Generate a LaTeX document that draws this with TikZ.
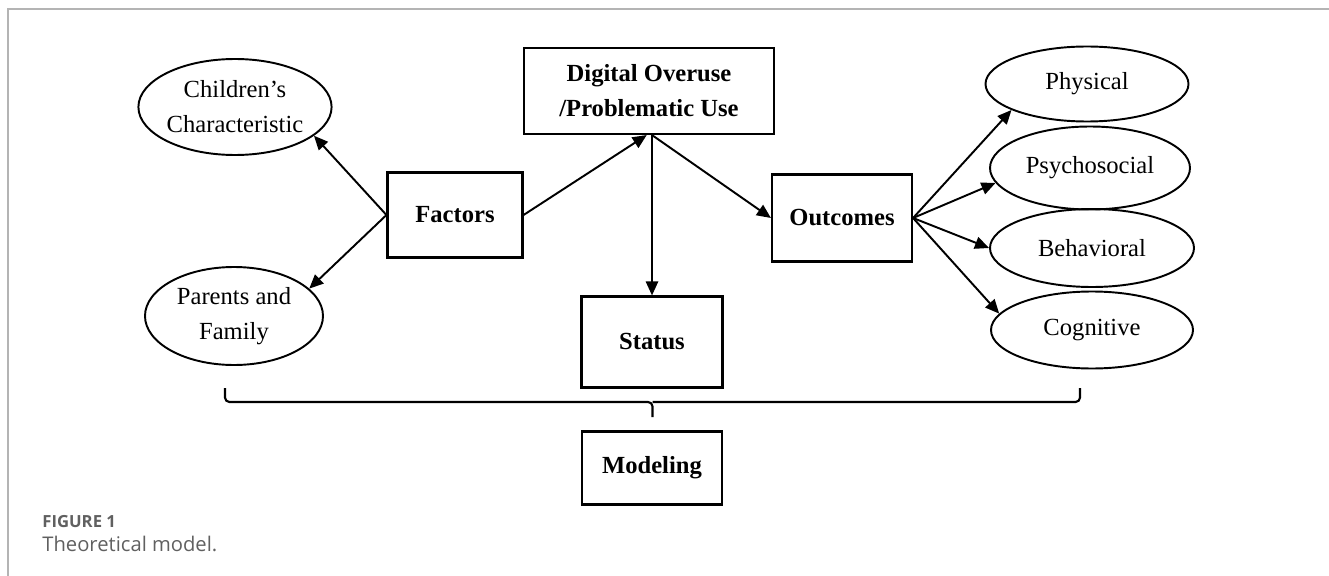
\documentclass[tikz,border=0pt]{standalone}
\usepackage{fontspec}
\setmainfont{Liberation Serif}
\newfontfamily\capfont[Ligatures=NoCommon]{Open Sans}
\usepackage{xcolor}
\usepackage{tikz}
\usetikzlibrary{arrows.meta,positioning,shapes.geometric,calc}
\definecolor{framegray}{HTML}{B4B4B4}
\definecolor{capgray}{HTML}{606060}

\begin{document}
\begin{tikzpicture}[>={Triangle[length=8pt,width=7pt]}, x=1cm, y=1cm,
  font=\fontsize{14}{20}\selectfont,
  oval/.style={draw, ellipse, line width=1.1pt, inner sep=0pt, align=center},
  block/.style={draw, rectangle, line width=1.2pt, inner sep=0pt, align=center, font=\fontsize{14}{20}\selectfont\bfseries},
  link/.style={->, line width=1.1pt}]
\useasboundingbox (0,0) rectangle (26.58,-11.52);
% page frame, open to the right and below
\draw[framegray, line width=0.8pt] (0.16,-11.52) -- (0.16,-0.18) -- (26.58,-0.18);
% centre column
\node[block, minimum width=5.00cm, minimum height=1.72cm] (digital) at (12.98,-1.82) {Digital Overuse\\/Problematic Use};
\node[block, minimum width=2.70cm, minimum height=1.70cm] (factors) at (9.10,-4.30) {Factors};
\node[block, minimum width=2.82cm, minimum height=1.82cm] (status) at (13.04,-6.84) {Status};
\node[block, minimum width=2.80cm, minimum height=1.74cm] (outcomes) at (16.84,-4.36) {Outcomes};
\node[block, minimum width=2.80cm, minimum height=1.46cm] (modeling) at (13.04,-9.36) {Modeling};
\coordinate (hub) at (status.north |- digital.south);
% left: what drives it
\node[oval, minimum width=3.58cm, minimum height=1.92cm] (child) at (4.70,-2.14) {Children's\\Characteristic};
\node[oval, minimum width=3.56cm, minimum height=1.96cm] (parents) at (4.68,-6.32) {Parents and\\Family};
% right: the four outcome areas
\node[oval, minimum width=4.06cm, minimum height=1.50cm] (physical) at (21.74,-1.68) {Physical};
\node[oval, minimum width=4.00cm, minimum height=1.66cm] (psycho) at (21.80,-3.36) {Psychosocial};
\node[oval, minimum width=4.08cm, minimum height=1.56cm] (behav) at (21.84,-4.96) {Behavioral};
\node[oval, minimum width=4.04cm, minimum height=1.54cm] (cogn) at (21.84,-6.60) {Cognitive};
% arrows
\draw[link] (factors.west) -- (child.-20);
\draw[link] (factors.west) -- (parents.20);
\draw[link] (factors.east) -- ([xshift=-3pt]hub);
\draw[link] (hub) -- (status.north);
\draw[link] (hub) -- (outcomes.west);
\draw[link] (outcomes.east) -- (physical.199);
\draw[link] (outcomes.east) -- (psycho.189);
\draw[link] (outcomes.east) -- (behav.west);
\draw[link] (outcomes.east) -- (cogn.170);
% the brace over everything
\coordinate (brL) at (4.50,-7.76);
\coordinate (brR) at (21.60,-7.76);
\coordinate (brM) at (13.05,-8.04);
\coordinate (brT) at (13.05,-8.34);
\draw[line width=1.2pt, rounded corners=2.5pt] (brL) |- (brM) -- (brT);
\draw[line width=1.2pt, rounded corners=2.5pt] (brR) |- (brM);
% caption
\node[anchor=base west, inner sep=0pt, capgray, font=\capfont\fontsize{9.5}{11}\selectfont\bfseries] (figno) at (0.84,-10.54) {FIGURE 1};
\node[anchor=base west, inner sep=0pt, capgray, font=\capfont\fontsize{11.5}{13}\selectfont] (figcap) at (0.84,-11.02) {Theoretical model.};
\end{tikzpicture}
\end{document}
